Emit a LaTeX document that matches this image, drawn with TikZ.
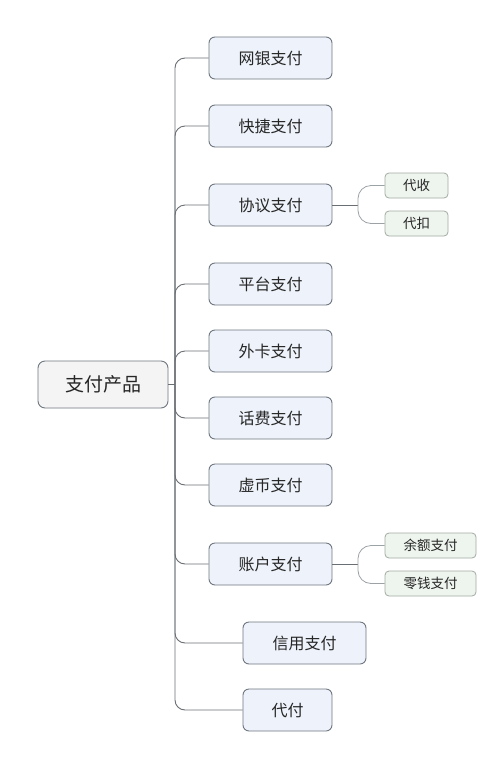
\documentclass[tikz,border=0pt]{standalone}
\usepackage{fontspec}
\setmainfont{Noto Sans CJK SC}
\definecolor{mainfill}{HTML}{EEF2FA}
\definecolor{mainline}{HTML}{6F7780}
\definecolor{subfill}{HTML}{EEF4EE}
\definecolor{subline}{HTML}{A3ABA3}
\definecolor{rootfill}{HTML}{F4F4F4}
\definecolor{conn}{HTML}{6A6F74}
\definecolor{subconn}{HTML}{9CA2A6}
\begin{document}
\begin{tikzpicture}[x=1pt,y=-1pt,
  rootbox/.style={draw=mainline,fill=rootfill,rounded corners=7pt,line width=0.9pt,minimum width=130pt,minimum height=47pt,inner sep=0pt,font=\fontsize{19}{22}\selectfont,text=black!85},
  mainbox/.style={draw=mainline,fill=mainfill,rounded corners=6pt,line width=0.9pt,minimum width=123pt,minimum height=42pt,inner sep=0pt,font=\fontsize{16}{19}\selectfont,text=black!85},
  subbox/.style={draw=subline,fill=subfill,rounded corners=4pt,line width=0.8pt,minimum height=25pt,inner sep=0pt,font=\fontsize{13.5}{16}\selectfont,text=black!85},
  link/.style={draw=conn,line width=0.9pt,rounded corners=10pt},
  sublink/.style={draw=subconn,line width=0.8pt,rounded corners=13pt}]
\useasboundingbox (0,0) rectangle (502,769);
\fill[white] (0,0) rectangle (502,769);
\node[rootbox] (root) at (103,384.5) {支付产品};
\node[mainbox] (wy) at (270.5,58) {网银支付};
\node[mainbox] (kj) at (270.5,126) {快捷支付};
\node[mainbox] (xy) at (270.5,205) {协议支付};
\node[mainbox] (pt) at (270.5,284) {平台支付};
\node[mainbox] (wk) at (270.5,351) {外卡支付};
\node[mainbox] (hf) at (270.5,418) {话费支付};
\node[mainbox] (xb) at (270.5,485) {虚币支付};
\node[mainbox] (zh) at (270.5,564) {账户支付};
\node[mainbox] (xyzf) at (304.5,643) {信用支付};
\node[mainbox,minimum width=89pt] (df) at (287.5,710) {代付};
\node[subbox,minimum width=63pt] (ds) at (416.5,185.5) {代收};
\node[subbox,minimum width=63pt] (dk) at (416.5,223.5) {代扣};
\node[subbox,minimum width=91pt] (ye) at (430.5,545.5) {余额支付};
\node[subbox,minimum width=91pt] (lq) at (430.5,583.5) {零钱支付};
\coordinate (spine) at (175,384.5);
\coordinate (xyj) at (358,205);
\coordinate (zhj) at (358,564);
\draw[draw=conn,line width=0.9pt] (root.east) -- (spine);
\foreach \c in {wy,kj,xy,pt,wk,hf,xb,zh,xyzf,df}{
  \draw[link] (spine) |- (\c.west);
}
\draw[draw=conn,line width=0.9pt] (xy.east) -- (xyj);
\foreach \c in {ds,dk}{
  \draw[sublink] (xyj) |- (\c.west);
}
\draw[draw=conn,line width=0.9pt] (zh.east) -- (zhj);
\foreach \c in {ye,lq}{
  \draw[sublink] (zhj) |- (\c.west);
}
\end{tikzpicture}
\end{document}
